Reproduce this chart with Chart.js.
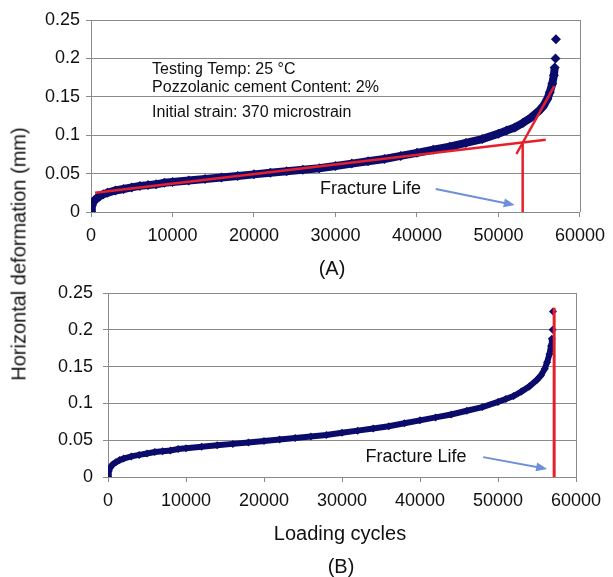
<!DOCTYPE html>
<html>
<head>
<meta charset="utf-8">
<script src="https://cdn.jsdelivr.net/npm/chart.js@4"></script>
<style>
  body { margin: 0; background: #fff; }
  #wrap { position: relative; width: 613px; height: 577px; font-family: Arial, "Liberation Sans", sans-serif; color: #111; }
  canvas { position: absolute; left: 0; }
  .lbl { position: absolute; font-size: 20px; white-space: nowrap; transform: translate(-50%, -50%); }
  #ytitle { transform: translate(-50%, -50%) rotate(-90deg); }
</style>
</head>
<body>
<div id="wrap">
  <canvas id="chartA" width="613" height="260" style="top:0"></canvas>
  <canvas id="chartB" width="613" height="260" style="top:270px"></canvas>
  <div class="lbl" id="ytitle" style="left:19px;top:254px">Horizontal deformation (mm)</div>
  <div class="lbl" style="left:332px;top:268px">(A)</div>
  <div class="lbl" style="left:340px;top:533px">Loading cycles</div>
  <div class="lbl" style="left:341px;top:566px">(B)</div>
</div>
<script>
// measured curve (loading cycles vs horizontal deformation, mm)
const cycles = [0, 100, 300, 600, 1000, 1500, 2000, 3000, 4000, 5000, 6000, 7000, 8000, 9000,
  10000, 12000, 14000, 16000, 18000, 20000, 22000, 24000, 26000, 28000, 30000, 32000, 34000,
  36000, 38000, 40000, 42000, 44000, 46000, 48000, 50000, 51000, 52000, 53000, 54000, 55000,
  55500, 56000, 56300, 56600, 56800, 56900, 57000, 57050];
const deformation = [0, 0.008, 0.013, 0.017, 0.020, 0.023, 0.025, 0.028, 0.030, 0.032, 0.034, 0.035, 0.036, 0.038,
  0.039, 0.041, 0.043, 0.045, 0.047, 0.049, 0.051, 0.053, 0.055, 0.057, 0.060, 0.063, 0.066,
  0.069, 0.073, 0.077, 0.081, 0.085, 0.090, 0.095, 0.102, 0.106, 0.110, 0.116, 0.123, 0.132,
  0.138, 0.147, 0.156, 0.167, 0.178, 0.188, 0.200, 0.225];

// fitted lines in panel A
const trendLow = [[500, 0.025], [55800, 0.094]];
const trendHigh = [[52200, 0.0755], [56850, 0.164]];
const fractureA = [[52970, 0], [52970, 0.0915]];
const fractureB = [[57200, 0], [57200, 0.23]];

const xTicks = [0, 10000, 20000, 30000, 40000, 50000, 60000];
const yTicks = [0, 0.05, 0.1, 0.15, 0.2, 0.25];

// annotations (data units)
const infoLines = ['Testing Temp: 25 \u00B0C', 'Pozzolanic cement Content: 2%', 'Initial strain: 370 microstrain'];
const infoY = [0.185, 0.1615, 0.130];
const infoX = 7500;

const NAVY = '#0b0b6c';
const RED = '#e5202b';
const BLUE = '#6f8fd8';
const GRID = '#8a8a8a';

Chart.defaults.font.family = 'Arial, "Liberation Sans", sans-serif';
Chart.defaults.color = '#111';

const pts = arr => arr.map(p => ({ x: p[0], y: p[1] }));

const notesPlugin = {
  id: 'notes',
  afterDatasetsDraw(chart, args, opts) {
    const { ctx, chartArea, scales: { x, y } } = chart;
    ctx.save();
    // right frame edge
    ctx.strokeStyle = GRID;
    ctx.lineWidth = 1;
    ctx.beginPath();
    ctx.moveTo(chartArea.right + 0.5, chartArea.top);
    ctx.lineTo(chartArea.right + 0.5, chartArea.bottom);
    ctx.stroke();
    (opts.texts || []).forEach(t => {
      ctx.font = t.size + 'px Arial, "Liberation Sans", sans-serif';
      ctx.fillStyle = '#111';
      ctx.textBaseline = 'middle';
      ctx.textAlign = 'left';
      ctx.fillText(t.text, x.getPixelForValue(t.x), y.getPixelForValue(t.y));
    });
    (opts.arrows || []).forEach(a => {
      const x1 = x.getPixelForValue(a[0][0]), y1 = y.getPixelForValue(a[0][1]);
      const x2 = x.getPixelForValue(a[1][0]), y2 = y.getPixelForValue(a[1][1]);
      const ang = Math.atan2(y2 - y1, x2 - x1);
      ctx.strokeStyle = BLUE;
      ctx.fillStyle = BLUE;
      ctx.lineWidth = 2;
      ctx.beginPath();
      ctx.moveTo(x1, y1);
      ctx.lineTo(x2 - 8 * Math.cos(ang), y2 - 8 * Math.sin(ang));
      ctx.stroke();
      ctx.beginPath();
      ctx.moveTo(x2, y2);
      ctx.lineTo(x2 - 11 * Math.cos(ang) + 4.5 * Math.sin(ang), y2 - 11 * Math.sin(ang) - 4.5 * Math.cos(ang));
      ctx.lineTo(x2 - 11 * Math.cos(ang) - 4.5 * Math.sin(ang), y2 - 11 * Math.sin(ang) + 4.5 * Math.cos(ang));
      ctx.closePath();
      ctx.fill();
    });
    ctx.restore();
  }
};

function curveDataset(lineW, radius) {
  const n = cycles.length;
  return {
    data: cycles.map((c, i) => ({ x: c, y: deformation[i] })),
    borderColor: NAVY,
    backgroundColor: NAVY,
    borderWidth: lineW,
    pointStyle: 'rectRot',
    pointRadius: radius,
    pointBorderWidth: 0,
    tension: 0,
    order: 2,
    segment: { borderColor: c => (c.p1DataIndex >= n - 2 ? 'transparent' : NAVY) }
  };
}

function redLine(arr, w) {
  return { data: pts(arr), borderColor: RED, borderWidth: w, pointRadius: 0, order: 0, tension: 0 };
}

function makeOptions(yWidth, xHeight, pad, tickPadY, plugins) {
  return {
    responsive: false,
    animation: false,
    layout: { padding: pad },
    plugins: Object.assign({ legend: { display: false }, tooltip: { enabled: false } }, plugins),
    scales: {
      x: {
        type: 'linear', min: 0, max: 60000,
        afterFit: s => { s.height = xHeight; },
        afterBuildTicks: s => { s.ticks = xTicks.map(v => ({ value: v })); },
        ticks: { font: { size: 18 }, color: '#111', padding: 8, maxRotation: 0, callback: v => String(v) },
        grid: { drawOnChartArea: false, drawTicks: true, tickLength: 5, color: GRID },
        border: { color: GRID }
      },
      y: {
        type: 'linear', min: 0, max: 0.25,
        afterFit: s => { s.width = yWidth; },
        afterBuildTicks: s => { s.ticks = yTicks.map(v => ({ value: v })); },
        ticks: { font: { size: 18 }, color: '#111', padding: tickPadY, callback: v => String(+v.toFixed(2)) },
        grid: { color: GRID, tickLength: 5, lineWidth: 1 },
        border: { color: GRID }
      }
    }
  };
}

new Chart(document.getElementById('chartA'), {
  type: 'line',
  data: {
    datasets: [
      redLine(trendLow, 2.5),
      redLine(trendHigh, 2.5),
      redLine(fractureA, 2.5),
      curveDataset(8, 5)
    ]
  },
  options: makeOptions(91, 48, { top: 20, right: 27, left: 0, bottom: 0 }, 6, {
    notes: {
      texts: infoLines.map((t, i) => ({ text: t, x: infoX, y: infoY[i], size: 16 }))
        .concat([{ text: 'Fracture Life', x: 28100, y: 0.030, size: 18 }]),
      arrows: [[[42300, 0.030], [52000, 0.009]]]
    }
  }),
  plugins: [notesPlugin]
});

new Chart(document.getElementById('chartB'), {
  type: 'line',
  data: {
    datasets: [
      redLine(fractureB, 3),
      curveDataset(6, 4)
    ]
  },
  options: makeOptions(108, 53, { top: 23, right: 37, left: 0, bottom: 0 }, 10, {
    notes: {
      texts: [{ text: 'Fracture Life', x: 33000, y: 0.027, size: 18 }],
      arrows: [[[48100, 0.027], [56300, 0.011]]]
    }
  }),
  plugins: [notesPlugin]
});
</script>
</body>
</html>
